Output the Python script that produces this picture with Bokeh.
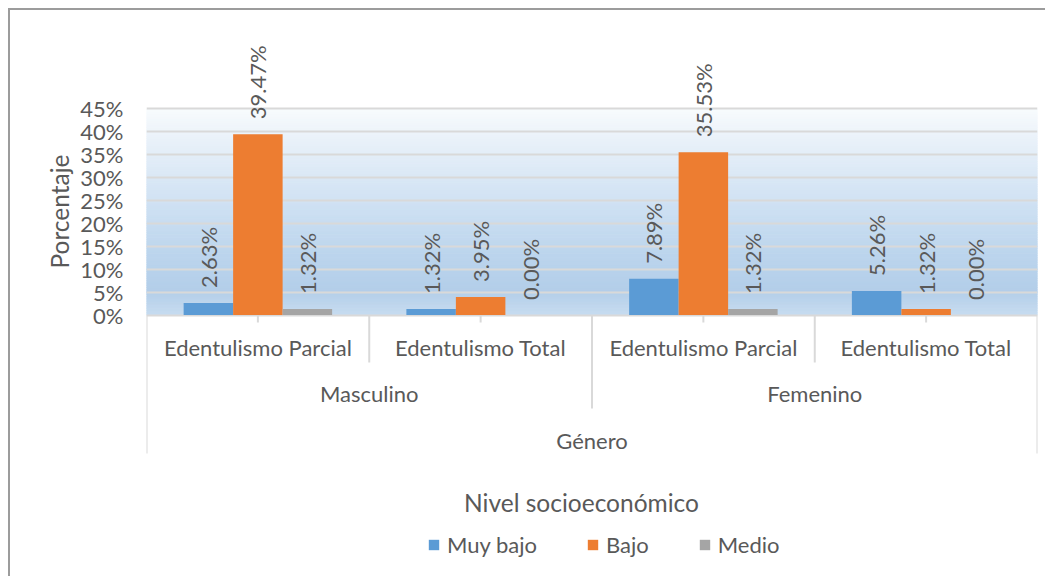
import numpy as np
from bokeh.plotting import figure
from bokeh.models import (FixedTicker, PrintfTickFormatter, Legend, LegendItem,
                          Title, ColumnDataSource, Range1d)
from bokeh.core.properties import value
from bokeh.embed import file_html
from bokeh.resources import INLINE

# ---------------- data ----------------
subgroups = ["Edentulismo Parcial", "Edentulismo Total",
             "Edentulismo Parcial", "Edentulismo Total"]
genders = ["Masculino", "Femenino"]
top_level = "Género"
series_names = ["Muy bajo", "Bajo", "Medio"]
muy_bajo = [2.63, 1.32, 7.89, 5.26]
bajo = [39.47, 3.95, 35.53, 1.32]
medio = [1.32, 0.00, 1.32, 0.00]
y_ticks = [0, 5, 10, 15, 20, 25, 30, 35, 40, 45]
y_title = "Porcentaje"
x_title = "Nivel socioeconómico"

# ---------------- style / layout ----------------
colors = ["#5B9BD5", "#ED7D31", "#A5A5A5"]
TXT = "#595959"
GRID = "#D9D9D9"
FONT = "Lato"
W, H = 1037, 568
PX_PER_UNIT = 4.58          # pixels per percentage point
ZERO_PAGE = 314.5           # page y of the 0 % line
FRAME_TOP_PAGE, FRAME_BOT_PAGE = 30, 578
y_top = (ZERO_PAGE - FRAME_TOP_PAGE) / PX_PER_UNIT
y_bot = -(FRAME_BOT_PAGE - ZERO_PAGE) / PX_PER_UNIT


def page_to_y(py):
    return (ZERO_PAGE - py) / PX_PER_UNIT


def page_to_x(px):
    return (px - 146) / ((1037 - 146) / 4)


p = figure(width=W, height=H, output_backend="svg", toolbar_location=None,
           x_range=Range1d(0, 4), y_range=Range1d(y_bot, y_top),
           x_axis_location=None, min_border_left=136, min_border_right=10,
           min_border_top=20, min_border_bottom=0)
p.styles = {"margin-left": "8px", "margin-top": "8px",
            "border-top": "2px solid #9c9c9c", "border-left": "2px solid #9c9c9c"}
p.outline_line_color = None
p.background_fill_color = "white"
p.border_fill_color = "white"
p.xgrid.visible = False

# gradient background of the plot area (0 % .. 45 %)
stops = [(0.0, (199, 220, 240)), (0.12, (179, 206, 233)), (0.3, (188, 213, 237)),
         (0.6, (212, 228, 244)), (0.85, (233, 241, 249)), (1.0, (248, 251, 253))]
nb = 90
top_val = y_ticks[-1]
edges = np.linspace(0, top_val, nb + 1)
band_cols = []
for i in range(nb):
    f = (i + 0.5) / nb
    for j in range(len(stops) - 1):
        if stops[j][0] <= f <= stops[j + 1][0]:
            t = (f - stops[j][0]) / (stops[j + 1][0] - stops[j][0])
            c = [int(round(a + (b - a) * t)) for a, b in zip(stops[j][1], stops[j + 1][1])]
            band_cols.append("#%02x%02x%02x" % tuple(c))
            break
p.quad(left=0, right=4, bottom=edges[:-1], top=edges[1:], fill_color=band_cols,
       line_color=band_cols, line_width=1, level="image")

# y grid + axis
p.ygrid.ticker = FixedTicker(ticks=y_ticks)
p.ygrid.grid_line_color = GRID
p.ygrid.grid_line_width = 2
yax = p.yaxis[0]
yax.ticker = FixedTicker(ticks=y_ticks)
yax.formatter = PrintfTickFormatter(format="%d%%")
yax.axis_line_color = None
yax.major_tick_line_color = None
yax.minor_tick_line_color = None
yax.major_label_standoff = 17
yax.major_label_text_font = FONT
yax.major_label_text_font_size = "22px"
yax.major_label_text_color = TXT

# y axis title (left title, starting near the value area's centre)
p.add_layout(Title(text=y_title, align="left", offset=FRAME_BOT_PAGE - 268, standoff=8,
                   text_font=FONT, text_font_size="24.5px", text_font_style="normal",
                   text_color=TXT), "left")

# bars
n = len(subgroups)
bw = 0.2222
series = [muy_bajo, bajo, medio]
renderers = []
for k, (vals, col) in enumerate(zip(series, colors)):
    xs = [i + 0.5 + (k - 1) * bw for i in range(n)]
    src = ColumnDataSource(dict(x=xs, top=vals,
                                lbl=["%.2f%%" % v for v in vals]))
    r = p.vbar(x="x", top="top", bottom=0, width=bw, source=src,
               fill_color=col, line_color=None)
    renderers.append(r)
    p.text(x="x", y="top", text="lbl", source=src, angle=np.pi / 2,
           y_offset=-15, text_align="left", text_baseline="middle",
           text_font=value(FONT), text_font_size="22px", text_color=TXT)

# multi-level category axis (table style)
lvl1_bottom = page_to_y(362)
lvl2_bottom = page_to_y(408)
lvl3_bottom = page_to_y(453)
tick_bottom = page_to_y(322)
seg_x = [0, 4, 2, 1, 3, 0.5, 1.5, 2.5, 3.5]
seg_y1 = [lvl3_bottom, lvl3_bottom, lvl2_bottom, lvl1_bottom, lvl1_bottom,
          tick_bottom, tick_bottom, tick_bottom, tick_bottom]
p.segment(x0=seg_x, y0=[0] * len(seg_x), x1=seg_x, y1=seg_y1,
          line_color=GRID, line_width=2)

p.text(x=[i + 0.5 for i in range(n)], y=[page_to_y(347)] * n, text=subgroups,
       text_align="center", text_baseline="middle", text_font=value(FONT),
       text_font_size="22px", text_color=TXT)
p.text(x=[1, 3], y=[page_to_y(393)] * 2, text=genders,
       text_align="center", text_baseline="middle", text_font=value(FONT),
       text_font_size="22px", text_color=TXT)
p.text(x=[2], y=[page_to_y(440)], text=[top_level],
       text_align="center", text_baseline="middle", text_font=value(FONT),
       text_font_size="22px", text_color=TXT)
p.text(x=[page_to_x(581)], y=[page_to_y(502)], text=[x_title],
       text_align="center", text_baseline="middle", text_font=value(FONT),
       text_font_size="24.5px", text_color=TXT)

# legend
legend = Legend(items=[LegendItem(label=nm, renderers=[r])
                       for nm, r in zip(series_names, renderers)],
                orientation="horizontal", location=(281, 20),
                glyph_width=13, glyph_height=13, label_standoff=7, spacing=49,
                padding=0, margin=0, border_line_color=None,
                background_fill_alpha=0,
                label_text_font=FONT, label_text_font_size="22px",
                label_text_color=TXT)
p.add_layout(legend, "center")

open("out.html", "w").write(file_html(p, INLINE))
